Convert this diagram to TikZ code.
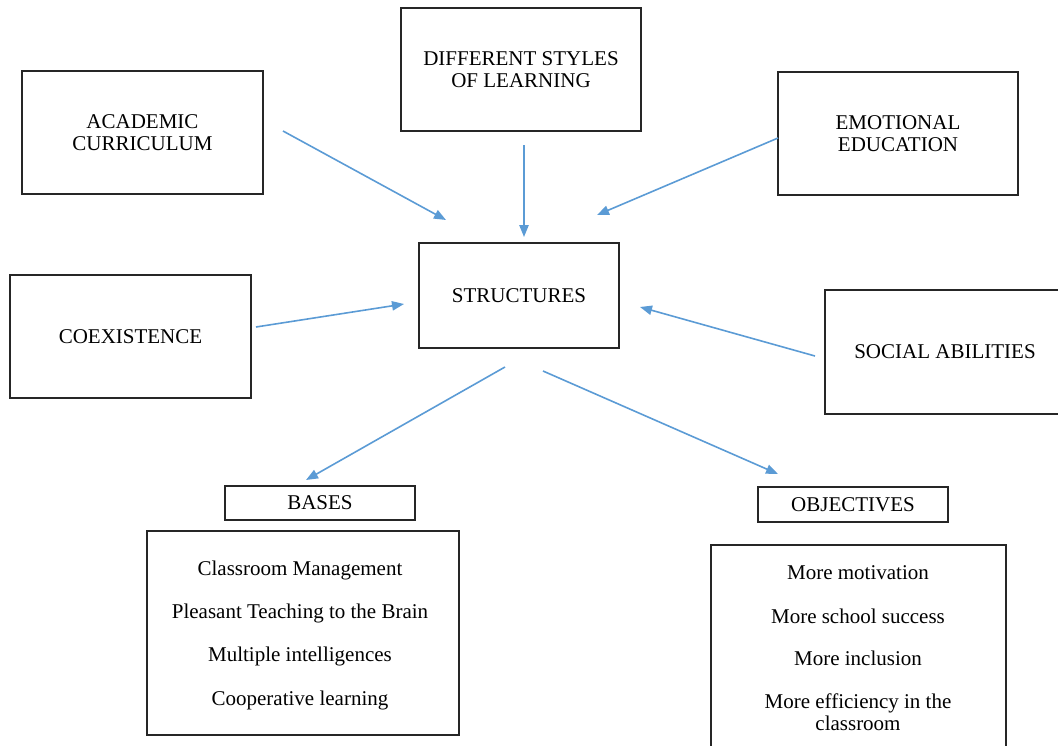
\documentclass[tikz,border=0pt]{standalone}
\usepackage{fontspec}
\setmainfont{Liberation Serif}
\usetikzlibrary{arrows.meta}
\definecolor{arrowblue}{RGB}{91,155,213}
\tikzset{
  box/.style={draw=black!85, line width=1.3pt, inner sep=0pt, align=center,
    font=\fontsize{15.75}{16}\selectfont},
  txt/.style={inner sep=0pt, align=center, font=\fontsize{15.75}{16}\selectfont},
  arr/.style={draw=arrowblue, line width=1.2pt,
    -{Triangle[length=9pt,width=7pt]}}
}
\begin{document}
\begin{tikzpicture}[x=0.75pt,y=-0.75pt]
\useasboundingbox (0,0) rectangle (1058,746);
\clip (0,0) rectangle (1058,746);
% boxes
\node[box, minimum width=180.75pt, minimum height=92.25pt] (acad) at (142.5,132.5) {ACADEMIC\\CURRICULUM};
\node[box, minimum width=180pt, minimum height=92.25pt] (diff) at (521,69.5) {DIFFERENT STYLES\\OF LEARNING};
\node[box, minimum width=180pt, minimum height=92.25pt] (emo) at (898,133.5) {EMOTIONAL\\EDUCATION};
\node[box, minimum width=150pt, minimum height=78.75pt] (struct) at (519,295.5) {STRUCTURES};
\node[box, minimum width=180.75pt, minimum height=92.25pt] (coex) at (130.5,336.5) {COEXISTENCE};
\node[box, minimum width=180pt, minimum height=93pt] (social) at (945,352) {SOCIAL ABILITIES};
\node[box, minimum width=142.5pt, minimum height=25.5pt] (bases) at (320,503) {BASES};
\node[box, minimum width=234pt, minimum height=153pt] (baselist) at (303,633) {};
\node[box, minimum width=142.5pt, minimum height=26.25pt] (obj) at (853,504.5) {OBJECTIVES};
\node[box, minimum width=221.25pt, minimum height=161.25pt] (objlist) at (858.5,652.5) {};
% list texts
\node[txt] (basetext) at (300,635) {Classroom Management\\[16.5pt]Pleasant Teaching to the Brain\\[16.5pt]Multiple intelligences\\[16.5pt]Cooperative learning};
\node[txt] (objtext) at (858,648) {More motivation\\[16.5pt]More school success\\[15.75pt]More inclusion\\[16.5pt]More efficiency in the\\classroom};
% arrow endpoints
\coordinate (a1s) at (283,131); \coordinate (a1e) at (446,220);
\coordinate (a2s) at (524,145); \coordinate (a2e) at (524,237);
\coordinate (a3s) at (778,138); \coordinate (a3e) at (597,215);
\coordinate (a4s) at (256,327); \coordinate (a4e) at (404,304);
\coordinate (a5s) at (815,356); \coordinate (a5e) at (640,307);
\coordinate (a6s) at (505,367); \coordinate (a6e) at (306,480);
\coordinate (a7s) at (543,371); \coordinate (a7e) at (778,474);
% arrows
\draw[arr] (a1s) -- (a1e);
\draw[arr] (a2s) -- (a2e);
\draw[arr] (a3s) -- (a3e);
\draw[arr] (a4s) -- (a4e);
\draw[arr] (a5s) -- (a5e);
\draw[arr] (a6s) -- (a6e);
\draw[arr] (a7s) -- (a7e);
\end{tikzpicture}
\end{document}
